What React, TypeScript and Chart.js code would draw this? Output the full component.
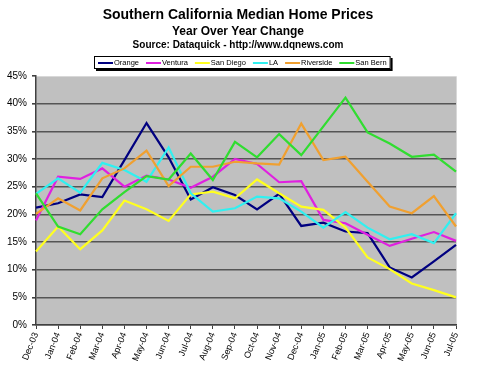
import React, { useEffect, useRef } from 'react';
import { Chart, registerables } from 'chart.js';
Chart.register(...registerables);

const FONT = 'Arial, "Liberation Sans", Helvetica, sans-serif';

const months = ['Dec-03', 'Jan-04', 'Feb-04', 'Mar-04', 'Apr-04', 'May-04', 'Jun-04', 'Jul-04', 'Aug-04', 'Sep-04', 'Oct-04', 'Nov-04', 'Dec-04', 'Jan-05', 'Feb-05', 'Mar-05', 'Apr-05', 'May-05', 'Jun-05', 'Jul-05'];

const orange = [21.2, 22.0, 23.6, 23.1, 29.8, 36.5, 30.3, 22.7, 24.9, 23.5, 20.9, 23.7, 17.9, 18.5, 16.9, 16.6, 10.4, 8.6, 11.5, 14.5];
const ventura = [18.9, 26.8, 26.4, 28.3, 25.0, 27.0, 26.3, 24.8, 26.8, 30.0, 29.1, 25.8, 26.0, 19.0, 18.4, 16.3, 14.3, 15.6, 16.8, 15.2];
const sanDiego = [13.3, 17.8, 13.7, 17.1, 22.5, 20.9, 18.8, 23.6, 24.1, 22.9, 26.3, 23.8, 21.4, 20.8, 17.6, 12.2, 10.1, 7.5, 6.3, 5.0];
const la = [23.7, 26.5, 23.9, 29.3, 28.0, 25.9, 32.1, 23.8, 20.5, 21.1, 23.2, 22.9, 20.5, 17.6, 20.4, 17.6, 15.5, 16.4, 14.8, 20.2];
const riverside = [20.1, 22.9, 20.7, 26.5, 28.3, 31.5, 25.1, 28.6, 28.6, 29.5, 29.2, 29.0, 36.4, 29.8, 30.4, 25.9, 21.4, 20.2, 23.3, 17.8];
const sanBern = [23.8, 17.8, 16.4, 20.9, 24.0, 26.9, 26.3, 31.0, 26.2, 33.1, 30.3, 34.5, 30.7, 35.9, 41.1, 34.8, 32.8, 30.4, 30.8, 27.7];

const seriesNames = ['Orange', 'Ventura', 'San Diego', 'LA', 'Riverside', 'San Bern'];
const seriesValues = [orange, ventura, sanDiego, la, riverside, sanBern];
const seriesColors = ['#000080', '#E020E0', '#FFFF20', '#30F0F0', '#F0A030', '#30DD30'];

const titleText = 'Southern California Median Home Prices';
const subtitleText = 'Year Over Year Change';
const sourceText = 'Source: Dataquick - http://www.dqnews.com';

const decorPlugin = {
  id: 'decor',
  beforeDraw(chart: any) {
    const { ctx, chartArea: a } = chart;
    ctx.save();
    ctx.fillStyle = '#ffffff';
    ctx.fillRect(0, 0, chart.width, chart.height);
    ctx.fillStyle = '#C0C0C0';
    ctx.fillRect(a.left, a.top, a.right - a.left, a.bottom - a.top);
    ctx.strokeStyle = '#d8d8d8';
    ctx.lineWidth = 1;
    ctx.beginPath();
    ctx.moveTo(a.left, a.top + 0.5);
    ctx.lineTo(a.right + 0.5, a.top + 0.5);
    ctx.lineTo(a.right + 0.5, a.bottom);
    ctx.stroke();
    ctx.restore();
  },
  afterDraw(chart: any) {
    const ctx = chart.ctx;
    ctx.save();
    ctx.fillStyle = '#000';
    ctx.textAlign = 'center';
    ctx.textBaseline = 'middle';
    ctx.font = `bold 14px ${FONT}`;
    ctx.fillText(titleText, 238, 15);
    ctx.font = `bold 12px ${FONT}`;
    ctx.fillText(subtitleText, 238, 32);
    ctx.font = `bold 10px ${FONT}`;
    ctx.fillText(sourceText, 238, 45);

    // legend
    ctx.font = `7.5px ${FONT}`;
    const lineLen = 15;
    const gap = 1;
    const itemGap = 7;
    const widths = seriesNames.map((n) => ctx.measureText(n).width);
    let total = 0;
    widths.forEach((w, i) => {
      total += lineLen + gap + w + (i < widths.length - 1 ? itemGap : 0);
    });
    const boxW = total + 8;
    const boxH = 13;
    const boxX = Math.round(242 - boxW / 2);
    const boxY = 56;
    ctx.fillStyle = '#000';
    ctx.fillRect(boxX + 2, boxY + 2, boxW, boxH);
    ctx.fillStyle = '#fff';
    ctx.fillRect(boxX, boxY, boxW, boxH);
    ctx.strokeStyle = '#000';
    ctx.lineWidth = 1;
    ctx.strokeRect(boxX + 0.5, boxY + 0.5, boxW - 1, boxH - 1);
    let x = boxX + 4;
    const cy = boxY + boxH / 2 + 0.5;
    ctx.textAlign = 'left';
    seriesNames.forEach((n, i) => {
      ctx.strokeStyle = seriesColors[i];
      ctx.lineWidth = 2;
      ctx.beginPath();
      ctx.moveTo(x, cy);
      ctx.lineTo(x + lineLen, cy);
      ctx.stroke();
      x += lineLen + gap;
      ctx.fillStyle = '#000';
      ctx.fillText(n, x, cy);
      x += widths[i] + itemGap;
    });
    ctx.restore();
  },
};

export default function App() {
  const ref = useRef<HTMLCanvasElement>(null);
  useEffect(() => {
    if (!ref.current) return;
    const chart = new Chart(ref.current, {
      type: 'line',
      data: {
        labels: months,
        datasets: seriesNames.map((name, i) => ({
          label: name,
          data: seriesValues[i],
          borderColor: seriesColors[i],
          backgroundColor: seriesColors[i],
          borderWidth: 2.2,
          pointRadius: 0,
          tension: 0,
          fill: false,
          order: seriesNames.length - i,
        })),
      },
      options: {
        animation: false,
        responsive: false,
        devicePixelRatio: 1,
        layout: { padding: { top: 76, right: 24, left: 0, bottom: 0 } },
        plugins: {
          legend: { display: false },
          title: { display: false },
          tooltip: { enabled: false },
        },
        scales: {
          x: {
            offset: false,
            afterFit: (s: any) => {
              s.height = 49;
            },
            grid: {
              drawOnChartArea: false,
              drawTicks: true,
              tickLength: 4,
              tickColor: '#404040',
            },
            border: { display: true, color: '#404040', width: 1.5 },
            ticks: {
              autoSkip: false,
              minRotation: 68,
              maxRotation: 68,
              padding: 2,
              color: '#000',
              font: { family: FONT, size: 9 },
            },
          },
          y: {
            min: 0,
            max: 45,
            afterFit: (s: any) => {
              s.width = 36;
            },
            grid: {
              color: (c: any) => (c.tick && c.tick.value === 45 ? 'rgba(0,0,0,0)' : '#555555'),
              lineWidth: 1.6,
              tickLength: 4,
              tickColor: '#404040',
            },
            border: { display: true, color: '#404040', width: 1.5 },
            ticks: {
              stepSize: 5,
              padding: 5,
              color: '#000',
              font: { family: FONT, size: 10 },
              callback: (v: any) => `${v}%`,
            },
          },
        },
      },
      plugins: [decorPlugin],
    });
    return () => chart.destroy();
  }, []);
  return (
    <div style={{ position: 'absolute', left: 0, top: 0, width: 480, height: 374 }}>
      <canvas ref={ref} width={480} height={374} />
    </div>
  );
}
